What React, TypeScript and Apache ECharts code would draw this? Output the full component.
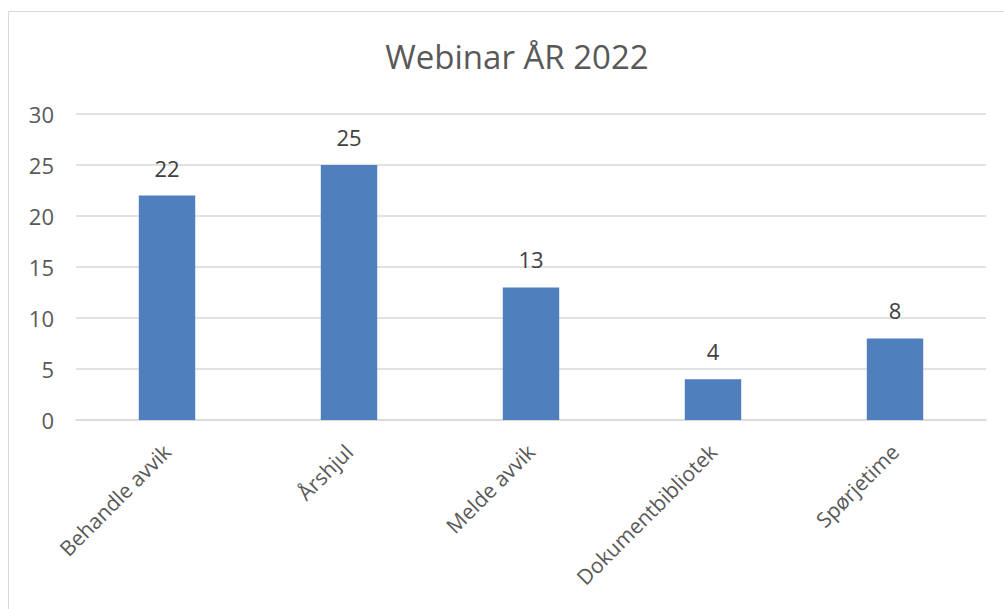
import React, { useEffect, useRef } from "react";
import * as echarts from "echarts";

const categories = ["Behandle avvik", "Årshjul", "Melde avvik", "Dokumentbibliotek", "Spørjetime"];
const values = [22, 25, 13, 4, 8];
const titleText = "Webinar ÅR 2022";

export default function App() {
  const ref = useRef<HTMLDivElement>(null);
  useEffect(() => {
    if (!ref.current) return;
    const chart = echarts.init(ref.current, undefined, { renderer: "svg" });
    const font = "'Open Sans', sans-serif";
    chart.setOption({
      animation: false,
      backgroundColor: "#ffffff",
      title: {
        text: titleText,
        left: 512,
        textAlign: "center",
        top: 35,
        textStyle: { fontFamily: font, fontSize: 33, fontWeight: "normal", color: "#595959" },
      },
      graphic: [
        {
          type: "rect",
          shape: { x: 8.5, y: 11.5, width: 1010, height: 620 },
          style: { fill: "none", stroke: "#d9d9d9", lineWidth: 1 },
          silent: true,
        },
      ],
      grid: { left: 76, right: 18, top: 114, bottom: 189, containLabel: false },
      xAxis: {
        type: "category",
        data: categories,
        axisLine: { show: true, lineStyle: { color: "#d9d9d9", width: 1.5 } },
        axisTick: { show: false },
        axisLabel: {
          rotate: 45,
          margin: 28,
          fontFamily: font,
          fontSize: 21,
          color: "#595959",
          interval: 0,
        },
      },
      yAxis: {
        type: "value",
        min: 0,
        max: 30,
        interval: 5,
        axisLine: { show: false },
        axisTick: { show: false },
        splitLine: { lineStyle: { color: "#d9d9d9", width: 1.5 } },
        axisLabel: { margin: 22, fontFamily: font, fontSize: 22, color: "#595959" },
      },
      series: [
        {
          type: "bar",
          data: values,
          barWidth: "31%",
          itemStyle: { color: "#4F7FBD" },
          label: {
            show: true,
            position: "top",
            distance: 17,
            fontFamily: font,
            fontSize: 22,
            color: "#404040",
          },
        },
      ],
    });
    return () => chart.dispose();
  }, []);
  return (
    <div
      ref={ref}
      style={{ position: "fixed", left: 0, top: 0, width: 1004, height: 609, background: "#fff" }}
    />
  );
}
